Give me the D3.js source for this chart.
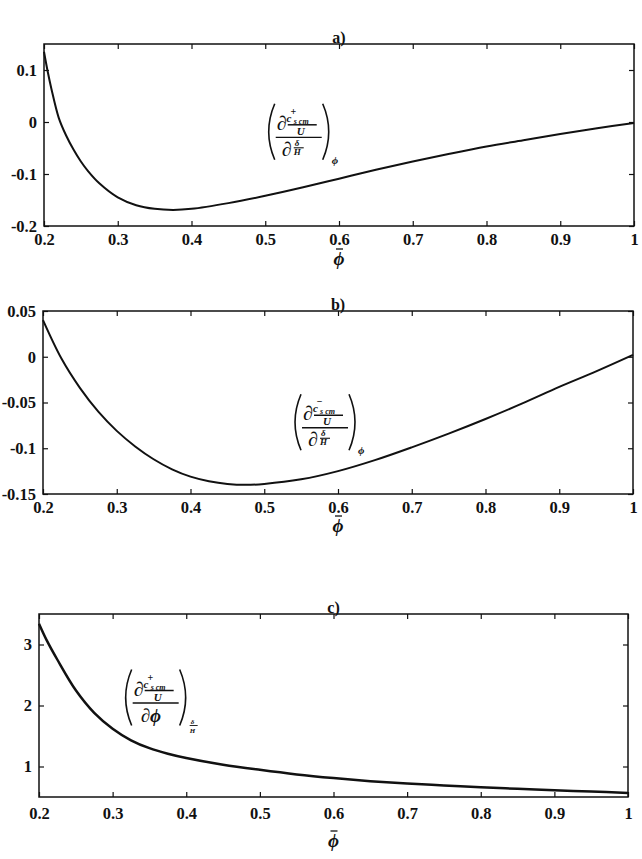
<!DOCTYPE html>
<html>
<head>
<meta charset="utf-8">
<script src="https://cdn.jsdelivr.net/npm/d3@7"></script>
<style>
body { margin: 0; background: #fff; }
text { font-family: "Liberation Serif", "Times New Roman", serif; fill: #111; }
</style>
</head>
<body>
<svg id="chart" width="642" height="859"></svg>
<script>
// x axis is the same for all three panels
var xTicks = [0.2, 0.3, 0.4, 0.5, 0.6, 0.7, 0.8, 0.9, 1];
var xTickLabels = ['0.2', '0.3', '0.4', '0.5', '0.6', '0.7', '0.8', '0.9', '1'];

// a) d(c+/U)/d(delta/H) at constant phi
var phiA = [0.2, 0.205, 0.21, 0.22, 0.23, 0.24, 0.25, 0.26, 0.275, 0.3, 0.325, 0.35, 0.375, 0.4, 0.45, 0.5, 0.55, 0.6, 0.65, 0.7, 0.75, 0.8, 0.85, 0.9, 0.95, 1];
var valA = [0.135, 0.097, 0.064, 0.008, -0.026, -0.053, -0.076, -0.095, -0.118, -0.145, -0.16, -0.167, -0.169, -0.167, -0.156, -0.142, -0.126, -0.109, -0.092, -0.076, -0.061, -0.047, -0.035, -0.023, -0.012, -0.002];
var yTicksA = [-0.2, -0.1, 0, 0.1];
var yTickLabelsA = ['-0.2', '-0.1', '0', '0.1'];

// b) d(c-/U)/d(delta/H) at constant phi
var phiB = [0.2, 0.225, 0.25, 0.275, 0.3, 0.325, 0.35, 0.375, 0.4, 0.425, 0.45, 0.475, 0.5, 0.55, 0.6, 0.65, 0.7, 0.75, 0.8, 0.85, 0.9, 0.95, 1];
var valB = [0.04, -0.002, -0.034, -0.06, -0.081, -0.098, -0.112, -0.123, -0.131, -0.136, -0.139, -0.14, -0.139, -0.134, -0.125, -0.113, -0.099, -0.084, -0.068, -0.051, -0.033, -0.016, 0.002];
var yTicksB = [-0.15, -0.1, -0.05, 0, 0.05];
var yTickLabelsB = ['-0.15', '-0.1', '-0.05', '0', '0.05'];

// c) d(c+/U)/d(phi) at constant delta/H
var phiC = [0.2, 0.21, 0.225, 0.25, 0.275, 0.3, 0.325, 0.35, 0.375, 0.4, 0.45, 0.5, 0.55, 0.6, 0.65, 0.7, 0.75, 0.8, 0.85, 0.9, 0.95, 1];
var valC = [3.34, 3.08, 2.75, 2.25, 1.88, 1.62, 1.43, 1.3, 1.21, 1.14, 1.03, 0.945, 0.87, 0.81, 0.76, 0.72, 0.69, 0.66, 0.635, 0.61, 0.59, 0.565];
var yTicksC = [1, 2, 3];
var yTickLabelsC = ['1', '2', '3'];

var svg = d3.select('#chart');

function txt(g, x, y, s, size, style) {
	return g.append('text')
		.attr('x', x).attr('y', y)
		.attr('font-size', size)
		.attr('font-style', style || 'normal')
		.attr('font-weight', 'bold')
		.text(s);
}

function bar(g, x1, y1, x2, y2, w) {
	g.append('line')
		.attr('x1', x1).attr('y1', y1).attr('x2', x2).attr('y2', y2)
		.attr('stroke', '#111').attr('stroke-width', w || 1.2);
}

// the bracketed derivative label
function formula(g, x0, y0, sign, denom, sub) {
	var H = 56;
	var f = g.append('g').attr('transform', 'translate(' + x0 + ',' + y0 + ')');
	f.append('path').attr('d', 'M8,0 Q-4,' + H / 2 + ' 8,' + H)
		.attr('fill', 'none').attr('stroke', '#111').attr('stroke-width', 1.6);
	f.append('path').attr('d', 'M56,0 Q68,' + H / 2 + ' 56,' + H)
		.attr('fill', 'none').attr('stroke', '#111').attr('stroke-width', 1.6);

	// numerator: d (c^sign_{s cm} / U)
	var num = txt(f, 10, 26, '', 20, 'italic');
	num.append('tspan').text('∂');
	num.append('tspan').attr('font-size', 11).attr('dy', -8).text('c');
	num.append('tspan').attr('font-size', 10).attr('font-style', 'normal').attr('dy', -7).attr('dx', -1).text(sign);
	num.append('tspan').attr('font-size', 8).attr('x', 27).attr('dy', 9).text('s cm');
	bar(f, 21, 21, 50, 21, 1.5);
	txt(f, 30, 31, 'U', 11, 'italic');
	bar(f, 9, 33.5, 55, 33.5, 1.3);

	// denominator
	if (denom === 'dH') {
		var den = txt(f, 15, 52, '', 20, 'italic');
		den.append('tspan').text('∂');
		den.append('tspan').attr('font-size', 9).attr('x', 28).attr('dy', -10).text('δ');
		den.append('tspan').attr('font-size', 9).attr('x', 27).attr('dy', 9).text('H');
		bar(f, 27, 44, 37, 44, 1.1);
	} else {
		txt(f, 17, 52, '∂ϕ', 19, 'italic');
	}

	if (sub === 'phi') {
		txt(f, 65, H + 4, 'ϕ', 11, 'italic');
	} else {
		var s = txt(f, 67, H - 2, '', 7, 'italic');
		s.append('tspan').text('δ');
		s.append('tspan').attr('x', 66).attr('dy', 9).text('H');
		bar(f, 66, H, 74, H, 0.9);
	}
}

function panel(o) {
	var x = d3.scaleLinear().domain([0.2, 1]).range([o.left, o.right]);
	var y = d3.scaleLinear().domain(o.yDomain).range([o.bottom, o.top]);
	var g = svg.append('g');

	g.append('g').attr('transform', 'translate(0,' + o.bottom + ')')
		.call(d3.axisBottom(x).tickValues(xTicks).tickSize(-5).tickPadding(o.xPad)
			.tickFormat(function (d, i) { return xTickLabels[i]; }));
	g.append('g').attr('transform', 'translate(0,' + o.top + ')')
		.call(d3.axisTop(x).tickValues(xTicks).tickSize(-5).tickFormat(''));
	g.append('g').attr('transform', 'translate(' + o.left + ',0)')
		.call(d3.axisLeft(y).tickValues(o.yTicks).tickSize(-5).tickPadding(7)
			.tickFormat(function (d, i) { return o.yLabels[i]; }));
	g.append('g').attr('transform', 'translate(' + o.right + ',0)')
		.call(d3.axisRight(y).tickValues(o.yTicks).tickSize(-5).tickFormat(''));

	g.selectAll('.domain').remove();
	g.selectAll('.tick line').attr('stroke', '#111').attr('stroke-width', 1.2);
	g.selectAll('.tick text')
		.attr('font-family', '"Liberation Serif", serif')
		.attr('font-size', 16.5)
		.attr('font-weight', 'bold')
		.attr('fill', '#111');

	g.append('rect')
		.attr('x', o.left).attr('y', o.top)
		.attr('width', o.right - o.left).attr('height', o.bottom - o.top)
		.attr('fill', 'none').attr('stroke', '#111').attr('stroke-width', 1.5);

	var pts = o.phi.map(function (p, i) { return [p, o.val[i]]; });
	g.append('path')
		.datum(pts)
		.attr('fill', 'none')
		.attr('stroke', '#111')
		.attr('stroke-width', o.lw)
		.attr('d', d3.line()
			.x(function (d) { return x(d[0]); })
			.y(function (d) { return y(d[1]); })
			.curve(d3.curveCatmullRom.alpha(0.5)));

	txt(g, x(0.6), o.top - 1, o.title, 16).attr('text-anchor', 'middle');

	// phi-bar axis label
	var cx = x(0.6);
	txt(g, cx, o.bottom + o.labOff, 'ϕ', 19, 'italic').attr('text-anchor', 'middle');
	bar(g, cx - 3, o.bottom + o.labOff - 16, cx + 4, o.bottom + o.labOff - 16, 1.3);

	formula(g, x(o.fx), y(o.fy), o.sign, o.denom, o.sub);
}

panel({ left: 44, right: 634, top: 44, bottom: 226, yDomain: [-0.2, 0.15],
	yTicks: yTicksA, yLabels: yTickLabelsA, phi: phiA, val: valA, lw: 2,
	title: 'a)', xPad: 7, labOff: 39, fx: 0.502, fy: 0.035, sign: '+', denom: 'dH', sub: 'phi' });

panel({ left: 43, right: 633, top: 311, bottom: 494, yDomain: [-0.15, 0.05],
	yTicks: yTicksB, yLabels: yTickLabelsB, phi: phiB, val: valB, lw: 2,
	title: 'b)', xPad: 7, labOff: 38, fx: 0.539, fy: -0.041, sign: '−', denom: 'dH', sub: 'phi' });

panel({ left: 39, right: 628, top: 614, bottom: 797, yDomain: [0.5, 3.5],
	yTicks: yTicksC, yLabels: yTickLabelsC, phi: phiC, val: valC, lw: 2.5,
	title: 'c)', xPad: 10, labOff: 50, fx: 0.315, fy: 2.59, sign: '+', denom: 'dphi', sub: 'dH' });
</script>
</body>
</html>
